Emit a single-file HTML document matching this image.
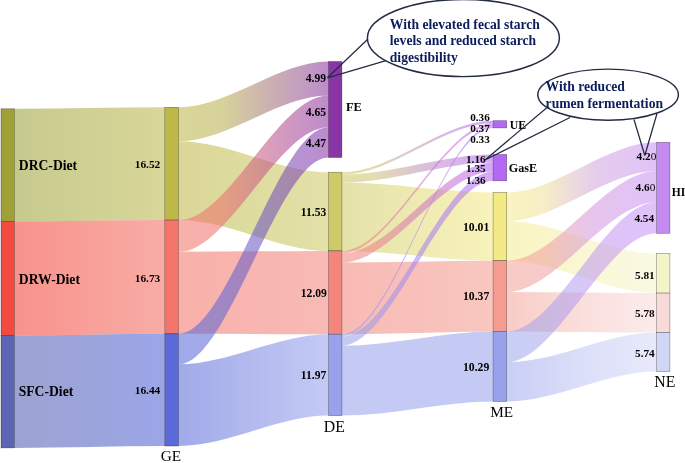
<!DOCTYPE html>
<html><head><meta charset="utf-8"><title>Sankey</title>
<style>html,body{margin:0;padding:0;background:#fff}svg{display:block}</style></head>
<body><svg width="685" height="463" viewBox="0 0 685 463" font-family="'Liberation Serif','Times New Roman',serif">
<defs><linearGradient id="g0" gradientUnits="userSpaceOnUse" x1="14.5" y1="0" x2="164.8" y2="0"><stop offset="0" stop-color="#a1a644"/><stop offset="1" stop-color="#bfbc54"/></linearGradient><linearGradient id="g1" gradientUnits="userSpaceOnUse" x1="14.5" y1="0" x2="164.8" y2="0"><stop offset="0" stop-color="#f34a40"/><stop offset="1" stop-color="#f4756a"/></linearGradient><linearGradient id="g2" gradientUnits="userSpaceOnUse" x1="14.5" y1="0" x2="164.8" y2="0"><stop offset="0" stop-color="#5b65b2"/><stop offset="1" stop-color="#5a6ad8"/></linearGradient><linearGradient id="g3" gradientUnits="userSpaceOnUse" x1="178.6" y1="0" x2="328.4" y2="0"><stop offset="0" stop-color="#bdb848"/><stop offset="0.3" stop-color="#b9af4f"/><stop offset="0.6" stop-color="#a47676"/><stop offset="1" stop-color="#8a35a5"/></linearGradient><linearGradient id="g4" gradientUnits="userSpaceOnUse" x1="178.6" y1="0" x2="328.4" y2="0"><stop offset="0" stop-color="#bdb848"/><stop offset="1" stop-color="#cfca68"/></linearGradient><linearGradient id="g5" gradientUnits="userSpaceOnUse" x1="178.6" y1="0" x2="328.4" y2="0"><stop offset="0" stop-color="#f4756a"/><stop offset="0.3" stop-color="#ed716e"/><stop offset="0.6" stop-color="#bf5588"/><stop offset="1" stop-color="#8a35a5"/></linearGradient><linearGradient id="g6" gradientUnits="userSpaceOnUse" x1="178.6" y1="0" x2="328.4" y2="0"><stop offset="0" stop-color="#f4756a"/><stop offset="1" stop-color="#f4857c"/></linearGradient><linearGradient id="g7" gradientUnits="userSpaceOnUse" x1="178.6" y1="0" x2="328.4" y2="0"><stop offset="0" stop-color="#5a6ad8"/><stop offset="0.3" stop-color="#5d66d4"/><stop offset="0.6" stop-color="#7250be"/><stop offset="1" stop-color="#8a35a5"/></linearGradient><linearGradient id="g8" gradientUnits="userSpaceOnUse" x1="178.6" y1="0" x2="328.4" y2="0"><stop offset="0" stop-color="#5a6ad8"/><stop offset="1" stop-color="#98a2ec"/></linearGradient><linearGradient id="g9" gradientUnits="userSpaceOnUse" x1="341.9" y1="0" x2="493.1" y2="0"><stop offset="0" stop-color="#cfca68"/><stop offset="0.2" stop-color="#cdc273"/><stop offset="0.55" stop-color="#bf8fbc"/><stop offset="1" stop-color="#b468f4"/></linearGradient><linearGradient id="g10" gradientUnits="userSpaceOnUse" x1="341.9" y1="0" x2="493.1" y2="0"><stop offset="0" stop-color="#cfca68"/><stop offset="0.2" stop-color="#cdc273"/><stop offset="0.55" stop-color="#bf8fbc"/><stop offset="1" stop-color="#b468f4"/></linearGradient><linearGradient id="g11" gradientUnits="userSpaceOnUse" x1="341.9" y1="0" x2="493.1" y2="0"><stop offset="0" stop-color="#cfca68"/><stop offset="1" stop-color="#f3ea86"/></linearGradient><linearGradient id="g12" gradientUnits="userSpaceOnUse" x1="341.9" y1="0" x2="493.1" y2="0"><stop offset="0" stop-color="#f4857c"/><stop offset="0.2" stop-color="#ef8386"/><stop offset="0.55" stop-color="#ce74c4"/><stop offset="1" stop-color="#b468f4"/></linearGradient><linearGradient id="g13" gradientUnits="userSpaceOnUse" x1="341.9" y1="0" x2="493.1" y2="0"><stop offset="0" stop-color="#f4857c"/><stop offset="0.2" stop-color="#ef8386"/><stop offset="0.55" stop-color="#ce74c4"/><stop offset="1" stop-color="#b468f4"/></linearGradient><linearGradient id="g14" gradientUnits="userSpaceOnUse" x1="341.9" y1="0" x2="493.1" y2="0"><stop offset="0" stop-color="#f4857c"/><stop offset="1" stop-color="#f49c90"/></linearGradient><linearGradient id="g15" gradientUnits="userSpaceOnUse" x1="341.9" y1="0" x2="493.1" y2="0"><stop offset="0" stop-color="#98a2ec"/><stop offset="0.2" stop-color="#9a9ded"/><stop offset="0.55" stop-color="#a97ff1"/><stop offset="1" stop-color="#b468f4"/></linearGradient><linearGradient id="g16" gradientUnits="userSpaceOnUse" x1="341.9" y1="0" x2="493.1" y2="0"><stop offset="0" stop-color="#98a2ec"/><stop offset="0.2" stop-color="#9a9ded"/><stop offset="0.55" stop-color="#a97ff1"/><stop offset="1" stop-color="#b468f4"/></linearGradient><linearGradient id="g17" gradientUnits="userSpaceOnUse" x1="341.9" y1="0" x2="493.1" y2="0"><stop offset="0" stop-color="#98a2ec"/><stop offset="1" stop-color="#98a2ec"/></linearGradient><linearGradient id="g18" gradientUnits="userSpaceOnUse" x1="506.7" y1="0" x2="656.6" y2="0"><stop offset="0" stop-color="#f3ea86"/><stop offset="0.25" stop-color="#edde93"/><stop offset="0.6" stop-color="#cd9ddc"/><stop offset="1" stop-color="#c48af2"/></linearGradient><linearGradient id="g19" gradientUnits="userSpaceOnUse" x1="506.7" y1="0" x2="656.6" y2="0"><stop offset="0" stop-color="#f3ea86"/><stop offset="0.5" stop-color="#f4f0ae"/><stop offset="1" stop-color="#f5f4c8"/></linearGradient><linearGradient id="g20" gradientUnits="userSpaceOnUse" x1="506.7" y1="0" x2="656.6" y2="0"><stop offset="0" stop-color="#f49c90"/><stop offset="0.25" stop-color="#ee9a9c"/><stop offset="0.6" stop-color="#ce8ede"/><stop offset="1" stop-color="#c48af2"/></linearGradient><linearGradient id="g21" gradientUnits="userSpaceOnUse" x1="506.7" y1="0" x2="656.6" y2="0"><stop offset="0" stop-color="#f49c90"/><stop offset="0.5" stop-color="#f6c1bc"/><stop offset="1" stop-color="#f8dada"/></linearGradient><linearGradient id="g22" gradientUnits="userSpaceOnUse" x1="506.7" y1="0" x2="656.6" y2="0"><stop offset="0" stop-color="#98a2ec"/><stop offset="0.25" stop-color="#9d9fed"/><stop offset="0.6" stop-color="#bb8ff1"/><stop offset="1" stop-color="#c48af2"/></linearGradient><linearGradient id="g23" gradientUnits="userSpaceOnUse" x1="506.7" y1="0" x2="656.6" y2="0"><stop offset="0" stop-color="#98a2ec"/><stop offset="0.5" stop-color="#bbc1f2"/><stop offset="1" stop-color="#d2d6f6"/></linearGradient></defs>
<rect width="685" height="463" fill="#fff"/>
<g><path d="M14.5,108.8C64.6,108.8 114.7,107.3 164.8,107.3L164.8,220.1C114.7,220.1 64.6,221.5 14.5,221.5Z" fill="url(#g0)" fill-opacity="0.6"/><path d="M14.5,221.5C64.6,221.5 114.7,220.1 164.8,220.1L164.8,333.8C114.7,333.8 64.6,335.6 14.5,335.6Z" fill="url(#g1)" fill-opacity="0.6"/><path d="M14.5,335.6C64.6,335.6 114.7,333.8 164.8,333.8L164.8,446C114.7,446 64.6,447.9 14.5,447.9Z" fill="url(#g2)" fill-opacity="0.6"/><path d="M178.6,107.3C228.53,107.3 278.47,61.5 328.4,61.5L328.4,95.5C278.47,95.5 228.53,141.3 178.6,141.3Z" fill="url(#g3)" fill-opacity="0.57"/><path d="M178.6,141.3C228.53,141.3 278.47,172.2 328.4,172.2L328.4,250.9C278.47,250.9 228.53,220.1 178.6,220.1Z" fill="url(#g4)" fill-opacity="0.57"/><path d="M178.6,220.1C228.53,220.1 278.47,95.5 328.4,95.5L328.4,127.2C278.47,127.2 228.53,251.8 178.6,251.8Z" fill="url(#g5)" fill-opacity="0.57"/><path d="M178.6,251.8C228.53,251.8 278.47,250.9 328.4,250.9L328.4,334.2C278.47,334.2 228.53,333.8 178.6,333.8Z" fill="url(#g6)" fill-opacity="0.57"/><path d="M178.6,333.8C228.53,333.8 278.47,127.2 328.4,127.2L328.4,157.5C278.47,157.5 228.53,364.3 178.6,364.3Z" fill="url(#g7)" fill-opacity="0.57"/><path d="M178.6,364.3C228.53,364.3 278.47,334.2 328.4,334.2L328.4,415.6C278.47,415.6 228.53,446 178.6,446Z" fill="url(#g8)" fill-opacity="0.57"/><path d="M341.9,172.2C392.3,172.2 442.7,120.7 493.1,120.7L493.1,123.15C442.7,123.15 392.3,174.65 341.9,174.65Z" fill="url(#g9)" fill-opacity="0.57"/><path d="M341.9,174.65C392.3,174.65 442.7,154.5 493.1,154.5L493.1,162.4C442.7,162.4 392.3,182.55 341.9,182.55Z" fill="url(#g10)" fill-opacity="0.57"/><path d="M341.9,182.55C392.3,182.55 442.7,192.4 493.1,192.4L493.1,260.7C442.7,260.7 392.3,250.9 341.9,250.9Z" fill="url(#g11)" fill-opacity="0.57"/><path d="M341.9,250.9C392.3,250.9 442.7,123.15 493.1,123.15L493.1,125.65C442.7,125.65 392.3,253.4 341.9,253.4Z" fill="url(#g12)" fill-opacity="0.57"/><path d="M341.9,253.4C392.3,253.4 442.7,162.4 493.1,162.4L493.1,171.6C442.7,171.6 392.3,262.6 341.9,262.6Z" fill="url(#g13)" fill-opacity="0.57"/><path d="M341.9,262.6C392.3,262.6 442.7,260.7 493.1,260.7L493.1,331.4C442.7,331.4 392.3,334.2 341.9,334.2Z" fill="url(#g14)" fill-opacity="0.57"/><path d="M341.9,334.2C392.3,334.2 442.7,125.65 493.1,125.65L493.1,127.9C442.7,127.9 392.3,336.45 341.9,336.45Z" fill="url(#g15)" fill-opacity="0.57"/><path d="M341.9,336.45C392.3,336.45 442.7,171.6 493.1,171.6L493.1,180.8C442.7,180.8 392.3,345.7 341.9,345.7Z" fill="url(#g16)" fill-opacity="0.57"/><path d="M341.9,345.7C392.3,345.7 442.7,331.4 493.1,331.4L493.1,401.5C442.7,401.5 392.3,415.6 341.9,415.6Z" fill="url(#g17)" fill-opacity="0.57"/><path d="M506.7,192.4C556.67,192.4 606.63,142.3 656.6,142.3L656.6,170.9C606.63,170.9 556.67,221.0 506.7,221.0Z" fill="url(#g18)" fill-opacity="0.52"/><path d="M506.7,221.0C556.67,221.0 606.63,253.5 656.6,253.5L656.6,293.1C606.63,293.1 556.67,260.7 506.7,260.7Z" fill="url(#g19)" fill-opacity="0.52"/><path d="M506.7,260.7C556.67,260.7 606.63,170.9 656.6,170.9L656.6,202.3C606.63,202.3 556.67,292.05 506.7,292.05Z" fill="url(#g20)" fill-opacity="0.52"/><path d="M506.7,292.05C556.67,292.05 606.63,293.1 656.6,293.1L656.6,332.5C606.63,332.5 556.67,331.4 506.7,331.4Z" fill="url(#g21)" fill-opacity="0.52"/><path d="M506.7,331.4C556.67,331.4 606.63,202.3 656.6,202.3L656.6,233.3C606.63,233.3 556.67,362.3 506.7,362.3Z" fill="url(#g22)" fill-opacity="0.52"/><path d="M506.7,362.3C556.67,362.3 606.63,332.5 656.6,332.5L656.6,371.6C606.63,371.6 556.67,401.5 506.7,401.5Z" fill="url(#g23)" fill-opacity="0.52"/></g>
<g><rect x="1" y="108.8" width="13.5" height="112.7" fill="#9fa035" stroke="#000" stroke-opacity="0.45" stroke-width="0.6"/><rect x="1" y="221.5" width="13.5" height="114.1" fill="#f34a40" stroke="#000" stroke-opacity="0.45" stroke-width="0.6"/><rect x="1" y="335.6" width="13.5" height="112.3" fill="#5b65b2" stroke="#000" stroke-opacity="0.45" stroke-width="0.6"/><rect x="164.8" y="107.3" width="13.8" height="112.8" fill="#bdb848" stroke="#000" stroke-opacity="0.45" stroke-width="0.6"/><rect x="164.8" y="220.1" width="13.8" height="113.7" fill="#f4756a" stroke="#000" stroke-opacity="0.45" stroke-width="0.6"/><rect x="164.8" y="333.8" width="13.8" height="112.2" fill="#5a6ad8" stroke="#000" stroke-opacity="0.45" stroke-width="0.6"/><rect x="328.4" y="61.5" width="13.5" height="96.0" fill="#8a35a5" stroke="#000" stroke-opacity="0.45" stroke-width="0.6"/><rect x="328.4" y="172.2" width="13.5" height="78.7" fill="#cfca68" stroke="#000" stroke-opacity="0.45" stroke-width="0.6"/><rect x="328.4" y="250.9" width="13.5" height="83.3" fill="#f4857c" stroke="#000" stroke-opacity="0.45" stroke-width="0.6"/><rect x="328.4" y="334.2" width="13.5" height="81.4" fill="#98a2ec" stroke="#000" stroke-opacity="0.45" stroke-width="0.6"/><rect x="493.1" y="120.7" width="13.6" height="7.2" fill="#b468f4" stroke="#000" stroke-opacity="0.45" stroke-width="0.6"/><rect x="493.1" y="154.5" width="13.6" height="26.3" fill="#b468f4" stroke="#000" stroke-opacity="0.45" stroke-width="0.6"/><rect x="493.1" y="192.4" width="13.6" height="68.3" fill="#f3ea86" stroke="#000" stroke-opacity="0.45" stroke-width="0.6"/><rect x="493.1" y="260.7" width="13.6" height="70.7" fill="#f49c90" stroke="#000" stroke-opacity="0.45" stroke-width="0.6"/><rect x="493.1" y="331.4" width="13.6" height="70.1" fill="#98a2ec" stroke="#000" stroke-opacity="0.45" stroke-width="0.6"/><rect x="656.6" y="142.3" width="13.3" height="91.0" fill="#c48af2" stroke="#000" stroke-opacity="0.45" stroke-width="0.6"/><rect x="656.6" y="253.5" width="13.3" height="39.6" fill="#f5f4c8" stroke="#000" stroke-opacity="0.45" stroke-width="0.6"/><rect x="656.6" y="293.1" width="13.3" height="39.4" fill="#f8dada" stroke="#000" stroke-opacity="0.45" stroke-width="0.6"/><rect x="656.6" y="332.5" width="13.3" height="39.1" fill="#d2d6f6" stroke="#000" stroke-opacity="0.45" stroke-width="0.6"/></g>

<g fill="none" stroke="#222c44" stroke-width="1.25">
<path d="M327.4,77.8 L368,39 M327.4,77.8 L386,60.6"/>
<ellipse cx="463.4" cy="38" rx="96" ry="38.6" fill="#fff" stroke-width="1.45"/>
<path d="M485,160 L546.5,107.9 M485,160 L570,117.5"/>
<path d="M644.8,155.5 L634,119.5 M644.8,155.5 L657,113.5"/>
<ellipse cx="608.1" cy="94.7" rx="70.3" ry="25.6" fill="#fff" stroke-width="1.45"/>
</g>
<g fill="#0c1d5c" font-size="13.6" font-weight="bold">
<text x="389.8" y="28.5">With elevated fecal starch</text>
<text x="389.8" y="45.3">levels and reduced starch</text>
<text x="389.8" y="62.1">digestibility</text>
<text x="545.6" y="91.3">With reduced</text>
<text x="545.6" y="107.5">rumen fermentation</text>
</g>

<g><text x="18.8" y="170" font-size="13.65" font-weight="bold" text-anchor="start" fill="#000">DRC-Diet</text><text x="18.8" y="283.6" font-size="13.65" font-weight="bold" text-anchor="start" fill="#000">DRW-Diet</text><text x="18.7" y="395.8" font-size="13.65" font-weight="bold" text-anchor="start" fill="#000">SFC-Diet</text><text x="134.7" y="167.9" font-size="11.4" font-weight="bold" text-anchor="start" fill="#000">16.52</text><text x="134.7" y="281.6" font-size="11.4" font-weight="bold" text-anchor="start" fill="#000">16.73</text><text x="134.7" y="393.8" font-size="11.4" font-weight="bold" text-anchor="start" fill="#000">16.44</text><text x="305.8" y="82.4" font-size="11.6" font-weight="bold" text-anchor="start" fill="#000">4.99</text><text x="305.8" y="116" font-size="11.6" font-weight="bold" text-anchor="start" fill="#000">4.65</text><text x="305.8" y="147" font-size="11.6" font-weight="bold" text-anchor="start" fill="#000">4.47</text><text x="346" y="110.8" font-size="12.4" font-weight="bold" text-anchor="start" fill="#000">FE</text><text x="300.8" y="216" font-size="11.6" font-weight="bold" text-anchor="start" fill="#000">11.53</text><text x="300.8" y="297.4" font-size="11.6" font-weight="bold" text-anchor="start" fill="#000">12.09</text><text x="300.8" y="379" font-size="11.6" font-weight="bold" text-anchor="start" fill="#000">11.97</text><text x="470.2" y="121.3" font-size="11.2" font-weight="bold" text-anchor="start" fill="#000">0.36</text><text x="470.2" y="132.2" font-size="11.2" font-weight="bold" text-anchor="start" fill="#000">0.37</text><text x="470.2" y="143.2" font-size="11.2" font-weight="bold" text-anchor="start" fill="#000">0.33</text><text x="509.8" y="128.6" font-size="11.8" font-weight="bold" text-anchor="start" fill="#000">UE</text><text x="466" y="162.6" font-size="11.2" font-weight="bold" text-anchor="start" fill="#000">1.16</text><text x="466" y="172.4" font-size="11.2" font-weight="bold" text-anchor="start" fill="#000">1.35</text><text x="466" y="184" font-size="11.2" font-weight="bold" text-anchor="start" fill="#000">1.36</text><text x="508.8" y="172.4" font-size="12.1" font-weight="bold" text-anchor="start" fill="#000">GasE</text><text x="463" y="231" font-size="11.7" font-weight="bold" text-anchor="start" fill="#000">10.01</text><text x="463" y="300.3" font-size="11.7" font-weight="bold" text-anchor="start" fill="#000">10.37</text><text x="463" y="370.6" font-size="11.7" font-weight="bold" text-anchor="start" fill="#000">10.29</text><text x="636.6" y="160.4" font-size="11.3" font-weight="bold" text-anchor="start" fill="#000">4.2<tspan font-weight="normal">0</tspan></text><text x="635.5" y="190.8" font-size="11.3" font-weight="bold" text-anchor="start" fill="#000">4.6<tspan font-weight="normal">0</tspan></text><text x="634.4" y="222.1" font-size="11.3" font-weight="bold" text-anchor="start" fill="#000">4.54</text><text x="671.8" y="196.2" font-size="11.5" font-weight="bold" text-anchor="start" fill="#000">HI</text><text x="635" y="278.5" font-size="11.3" font-weight="bold" text-anchor="start" fill="#000">5.81</text><text x="635" y="317" font-size="11.3" font-weight="bold" text-anchor="start" fill="#000">5.78</text><text x="635" y="356.7" font-size="11.3" font-weight="bold" text-anchor="start" fill="#000">5.74</text><text x="171" y="461.3" font-size="15.3" font-weight="normal" text-anchor="middle" fill="#000">GE</text><text x="334.4" y="431.5" font-size="15.8" font-weight="normal" text-anchor="middle" fill="#000">DE</text><text x="501.7" y="416.5" font-size="15.3" font-weight="normal" text-anchor="middle" fill="#000">ME</text><text x="664.8" y="387" font-size="15.8" font-weight="normal" text-anchor="middle" fill="#000">NE</text></g>
</svg></body></html>
